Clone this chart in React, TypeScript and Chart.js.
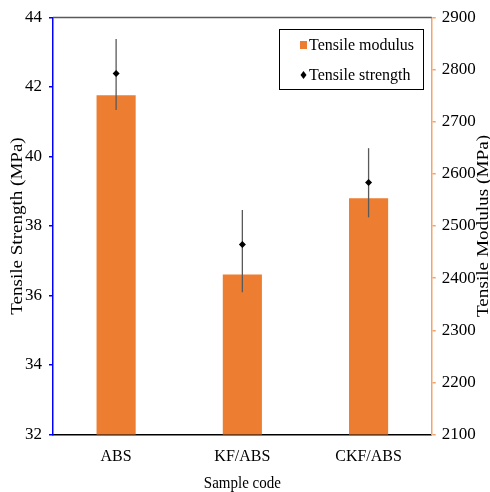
import React, { useEffect, useRef } from "react";
import { Chart, registerables } from "chart.js";

Chart.register(...registerables);

const categories = ["ABS", "KF/ABS", "CKF/ABS"];
const modulus = [2751, 2407, 2553];
const strength = [42.39, 37.47, 39.25];
const strengthErrPlus = [0.99, 0.99, 0.99];
const strengthErrMinus = [1.05, 1.38, 1.0];
const leftTitle = "Tensile Strength (MPa)";
const rightTitle = "Tensile Modulus (MPa)";
const xTitle = "Sample code";

const SERIF = '"Liberation Serif", "Times New Roman", serif';
const ORANGE = "#ED7D31";

const extras = {
  id: "extras",
  beforeDatasetDraw(chart: any, args: any) {
    if (args.index !== 1) return;
    const ctx = chart.ctx;
    const y = chart.scales.y;
    const meta = chart.getDatasetMeta(1);
    ctx.save();
    ctx.strokeStyle = "#595959";
    ctx.lineWidth = 1.3;
    meta.data.forEach((pt: any, i: number) => {
      const yTop = y.getPixelForValue(strength[i] + strengthErrPlus[i]);
      const yBot = y.getPixelForValue(strength[i] - strengthErrMinus[i]);
      ctx.beginPath();
      ctx.moveTo(pt.x, yTop);
      ctx.lineTo(pt.x, yBot);
      ctx.stroke();
    });
    ctx.restore();
  },
  afterDraw(chart: any) {
    const ctx = chart.ctx;
    const a = chart.chartArea;
    ctx.save();
    // top border
    ctx.strokeStyle = "#595959";
    ctx.lineWidth = 1.5;
    ctx.beginPath();
    ctx.moveTo(a.left, a.top);
    ctx.lineTo(a.right, a.top);
    ctx.stroke();

    // titles
    ctx.fillStyle = "#000";
    ctx.font = `16px ${SERIF}`;
    ctx.textAlign = "center";
    ctx.textBaseline = "middle";
    const cy = (a.top + a.bottom) / 2;
    ctx.save();
    ctx.translate(18, cy);
    ctx.rotate(-Math.PI / 2);
    ctx.scale(1.19, 1);
    ctx.fillText(leftTitle, 0, 0);
    ctx.restore();
    ctx.save();
    ctx.translate(484, cy);
    ctx.rotate(-Math.PI / 2);
    ctx.scale(1.2, 1);
    ctx.fillText(rightTitle, 0, 0);
    ctx.restore();
    ctx.font = `15px ${SERIF}`;
    ctx.textBaseline = "alphabetic";
    ctx.save();
    ctx.translate((a.left + a.right) / 2, 488);
    ctx.scale(1, 1.1);
    ctx.fillText(xTitle, 0, 0);
    ctx.restore();

    // legend
    const lx = 279, ly = 29, lw = 144, lh = 60;
    ctx.fillStyle = "#fff";
    ctx.fillRect(lx, ly, lw, lh);
    ctx.strokeStyle = "#000";
    ctx.lineWidth = 1;
    ctx.strokeRect(lx + 0.5, ly + 0.5, lw, lh);
    ctx.fillStyle = ORANGE;
    ctx.fillRect(300, 41, 7, 8);
    ctx.fillStyle = "#000";
    ctx.beginPath();
    ctx.moveTo(303.5, 71);
    ctx.lineTo(306.5, 75);
    ctx.lineTo(303.5, 79);
    ctx.lineTo(300.5, 75);
    ctx.closePath();
    ctx.fill();
    ctx.font = `16px ${SERIF}`;
    ctx.textAlign = "left";
    ctx.textBaseline = "middle";
    ctx.save();
    ctx.translate(309, 45.5);
    ctx.scale(1, 1.1);
    ctx.fillText(chart.data.datasets[0].label, 0, 0);
    ctx.restore();
    ctx.save();
    ctx.translate(309, 75.5);
    ctx.scale(1, 1.1);
    ctx.fillText(chart.data.datasets[1].label, 0, 0);
    ctx.restore();
    ctx.restore();
  },
};

export default function App() {
  const ref = useRef<HTMLCanvasElement>(null);
  useEffect(() => {
    if (!ref.current) return;
    const chart = new Chart(ref.current, {
      type: "bar",
      data: {
        labels: categories,
        datasets: [
          {
            type: "bar",
            label: "Tensile modulus",
            data: modulus,
            yAxisID: "y1",
            backgroundColor: ORANGE,
            barPercentage: 0.31,
            categoryPercentage: 1,
            order: 2,
          } as any,
          {
            type: "line",
            label: "Tensile strength",
            data: strength,
            yAxisID: "y",
            showLine: false,
            pointStyle: "rectRot",
            pointRadius: 3.5,
            pointBackgroundColor: "#000",
            pointBorderColor: "#000",
            pointBorderWidth: 0,
            order: 1,
          } as any,
        ],
      },
      options: {
        animation: false,
        responsive: true,
        maintainAspectRatio: false,
        layout: { padding: { top: 17.5, left: 0, right: 0, bottom: 0 } },
        plugins: { legend: { display: false }, tooltip: { enabled: false } },
        scales: {
          x: {
            grid: { display: true, drawOnChartArea: false, drawTicks: false },
            border: { color: "#000", width: 1.5 },
            ticks: { color: "#000", font: { family: SERIF, size: 16 }, padding: 13 },
            afterFit: (s: any) => { s.height = 57.5; },
          },
          y: {
            position: "left",
            min: 32,
            max: 44,
            ticks: { stepSize: 2, color: "#000", font: { family: SERIF, size: 17 }, padding: 7, callback: (v: any) => String(v) },
            grid: { drawOnChartArea: false, tickLength: 4, color: "#0000FF", lineWidth: 1.5 },
            border: { color: "#0000FF", width: 1.5 },
            afterFit: (s: any) => { s.width = 53; },
          },
          y1: {
            position: "right",
            min: 2100,
            max: 2900,
            ticks: { stepSize: 100, color: "#000", font: { family: SERIF, size: 17 }, padding: 6, callback: (v: any) => String(v) },
            grid: { drawOnChartArea: false, tickLength: 4, color: "#F4A46A", lineWidth: 1.5 },
            border: { color: "#F4A46A", width: 1.5 },
            afterFit: (s: any) => { s.width = 58.3; },
          },
        },
      },
      plugins: [extras],
    });
    return () => chart.destroy();
  }, []);
  return (
    <div style={{ position: "absolute", left: 0, top: 0, width: 490, height: 492, background: "#fff" }}>
      <canvas ref={ref} />
    </div>
  );
}
